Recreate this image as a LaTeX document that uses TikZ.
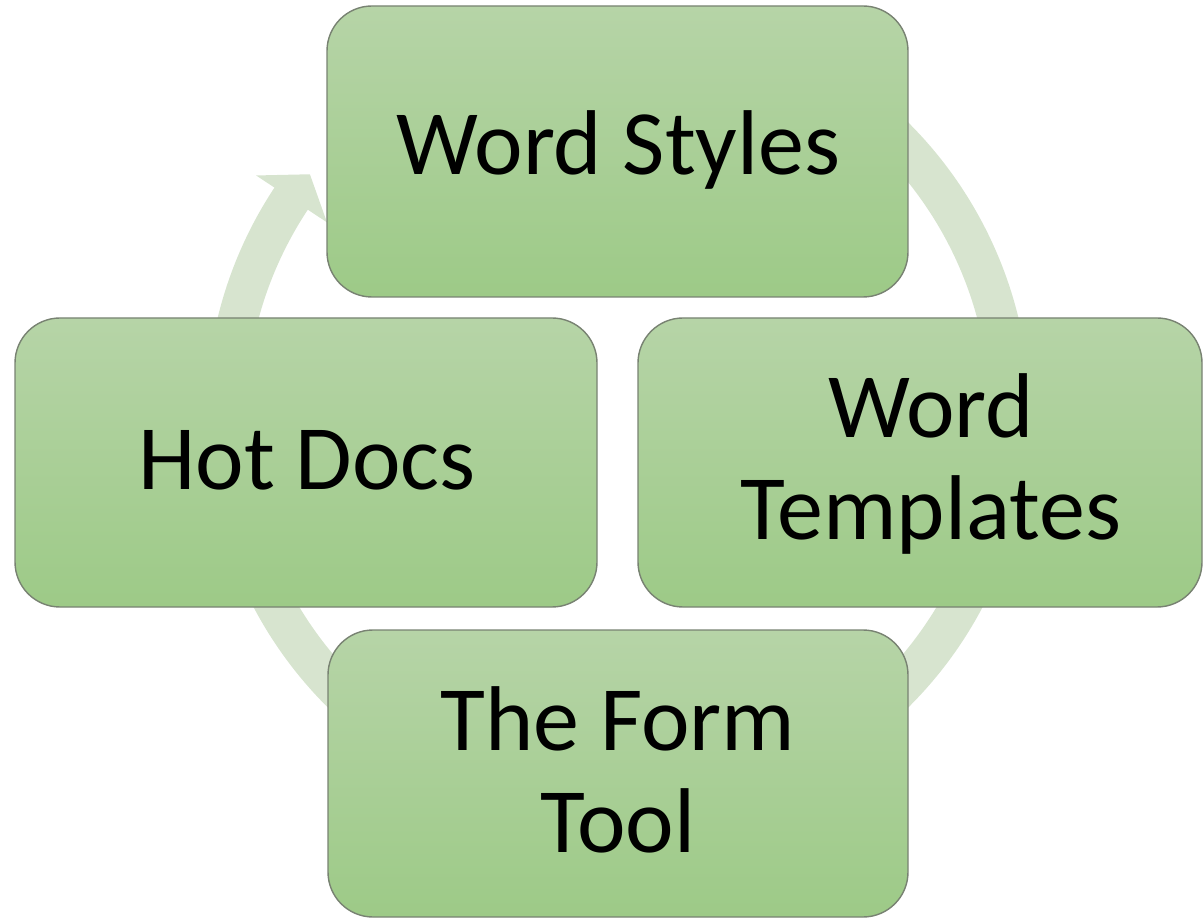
\documentclass[tikz,border=0pt]{standalone}
\usepackage{fontspec}
\setmainfont{Carlito}
\definecolor{ringgreen}{RGB}{215,228,207}
\definecolor{cardtop}{RGB}{182,212,167}
\definecolor{cardbottom}{RGB}{157,202,135}
\definecolor{cardline}{RGB}{120,130,114}
\tikzset{
  card/.style={rectangle, rounded corners=45pt, draw=cardline, line width=1.4pt,
    top color=cardtop, bottom color=cardbottom, inner sep=0pt},
  cardtext/.style={font=\fontsize{92}{102}\selectfont, text=black, align=center, inner sep=0pt},
  ring/.style={fill=ringgreen, draw=none}
}
\begin{document}
\begin{tikzpicture}[x=1pt, y=1pt]
\useasboundingbox (0,0) rectangle (1204,919);

% circular arrow running clockwise behind the four cards
\begin{scope}[shift={(618,504)}]
  \fill[ring] (75:412) arc[start angle=75, end angle=-213.5, radius=412]
    -- (146.5:434) -- (142:391) -- (146.5:349) -- (146.5:372)
    arc[start angle=-213.5, end angle=75, radius=372] -- cycle;
\end{scope}

% cards
\node[card, minimum width=581pt, minimum height=291pt] (styles) at (617.5,767.5) {};
\node[card, minimum width=582pt, minimum height=289pt] (hotdocs) at (306,456.5) {};
\node[card, minimum width=564pt, minimum height=289pt] (templates) at (920,456.5) {};
\node[card, minimum width=580pt, minimum height=287pt] (formtool) at (618,145.5) {};

% labels, placed on their last baseline
\node[cardtext, anchor=base] (styles-label) at (618.5,744) {Word Styles};
\node[cardtext, anchor=base] (hotdocs-label) at (307,429.7) {Hot Docs};
\node[cardtext, anchor=base] (templates-label) at (931,379) {Word\\Templates};
\node[cardtext, anchor=base] (formtool-label) at (618,67) {The Form\\Tool};
\end{tikzpicture}
\end{document}
